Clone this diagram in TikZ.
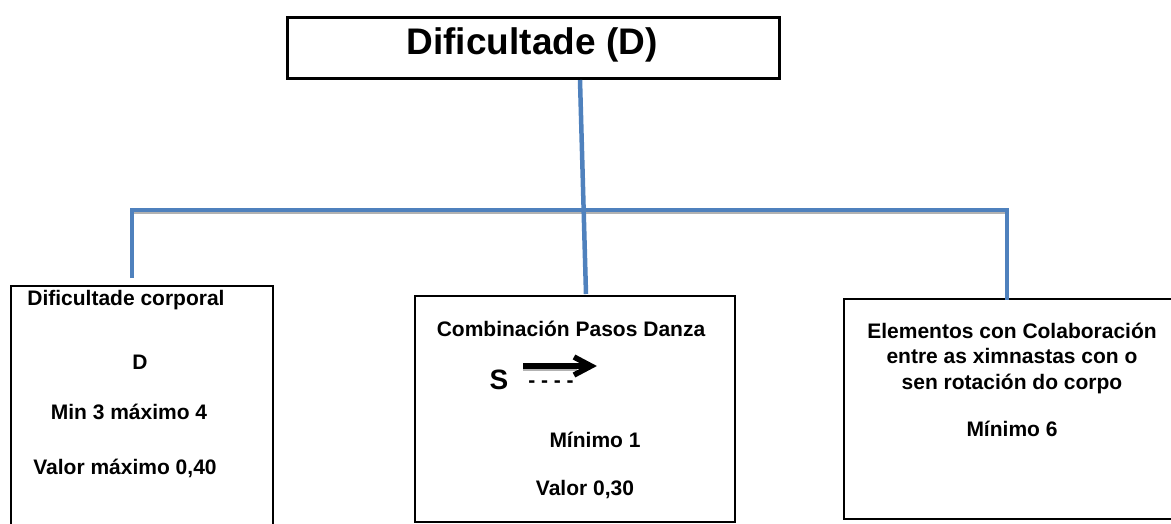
\documentclass[tikz,border=0pt]{standalone}
\usepackage{fontspec}
\setmainfont{Liberation Sans}
\usetikzlibrary{arrows.meta}
\definecolor{conblue}{HTML}{4F81BD}
\begin{document}
\begin{tikzpicture}[x=1pt,y=1pt,
  boxa/.style={draw=black,line width=2pt,inner sep=0pt,fill=none},
  txt/.style={font=\bfseries\fontsize{21}{25.5}\selectfont,inner sep=0pt,align=center},
  conn/.style={draw=conblue,line width=4.5pt},
  shade/.style={draw=black!30,line width=2.5pt},
  bigarrow/.style={line width=5.5pt,line join=miter,miter limit=10}]
\useasboundingbox (0,0) rectangle (1171,-523);
% boxes
\node[boxa,line width=2.6pt,minimum width=492pt,minimum height=61pt,anchor=north west] (top) at (286,-16) {};
\node[txt,font=\bfseries\fontsize{37}{40}\selectfont] (toptxt) at (532,-45) {Dificultade (D)};
\node[boxa,minimum width=262pt,minimum height=260pt,anchor=north west] (lbox) at (10,-285) {};
\node[boxa,minimum width=320pt,minimum height=226pt,anchor=north west] (cbox) at (414,-295) {};
\node[boxa,minimum width=340pt,minimum height=220pt,anchor=north west] (rbox) at (843,-298) {};
% left texts
\node[txt] (l1) at (126,-300) {Dificultade corporal};
\node[txt] (l2) at (140,-362) {D};
\node[txt] (l3) at (129,-412) {Min 3 máximo 4};
\node[txt] (l4) at (125,-468) {Valor máximo 0,40};
% center texts
\node[txt] (c1) at (571,-329) {Combinación Pasos Danza};
\node[txt,font=\bfseries\fontsize{28}{30}\selectfont] (cs) at (499,-380) {S};
\node[txt] (cd) at (551,-384) {- - - -};
\coordinate (ar1) at (523,-366);
\coordinate (ar2) at (591,-366);
\draw[black!30,line width=3pt] ([yshift=-3pt]ar1) -- ([shift={(-14pt,-3pt)}]ar2);
\draw[bigarrow] (ar1) -- ([xshift=-4pt]ar2);
\draw[bigarrow] ([shift={(-17pt,9pt)}]ar2) -- (ar2) -- ([shift={(-17pt,-9pt)}]ar2);
\node[txt] (c3) at (595,-440) {Mínimo 1};
\node[txt] (c4) at (585,-490) {Valor 0,30};
% right texts
\node[txt] (r1) at (1012,-358) {Elementos con Colaboración\\entre as ximnastas con o\\sen rotación do corpo};
\node[txt] (r2) at (1012,-429) {Mínimo 6};
% connectors
\coordinate (v1) at (580,-80);
\coordinate (v2) at (586,-294);
\coordinate (hl) at (132,-278);
\coordinate (hlc) at (132,-210);
\coordinate (hrc) at (1007,-210);
\coordinate (hr) at (1007,-300);
\draw[shade] ([shift={(1.5,-3)}]hlc) -- ([shift={(1.5,-3)}]hrc);
\draw[conn] (v1) -- (v2);
\draw[conn,line join=miter] (hl) -- (hlc) -- (hrc) -- (hr);
\end{tikzpicture}
\end{document}
